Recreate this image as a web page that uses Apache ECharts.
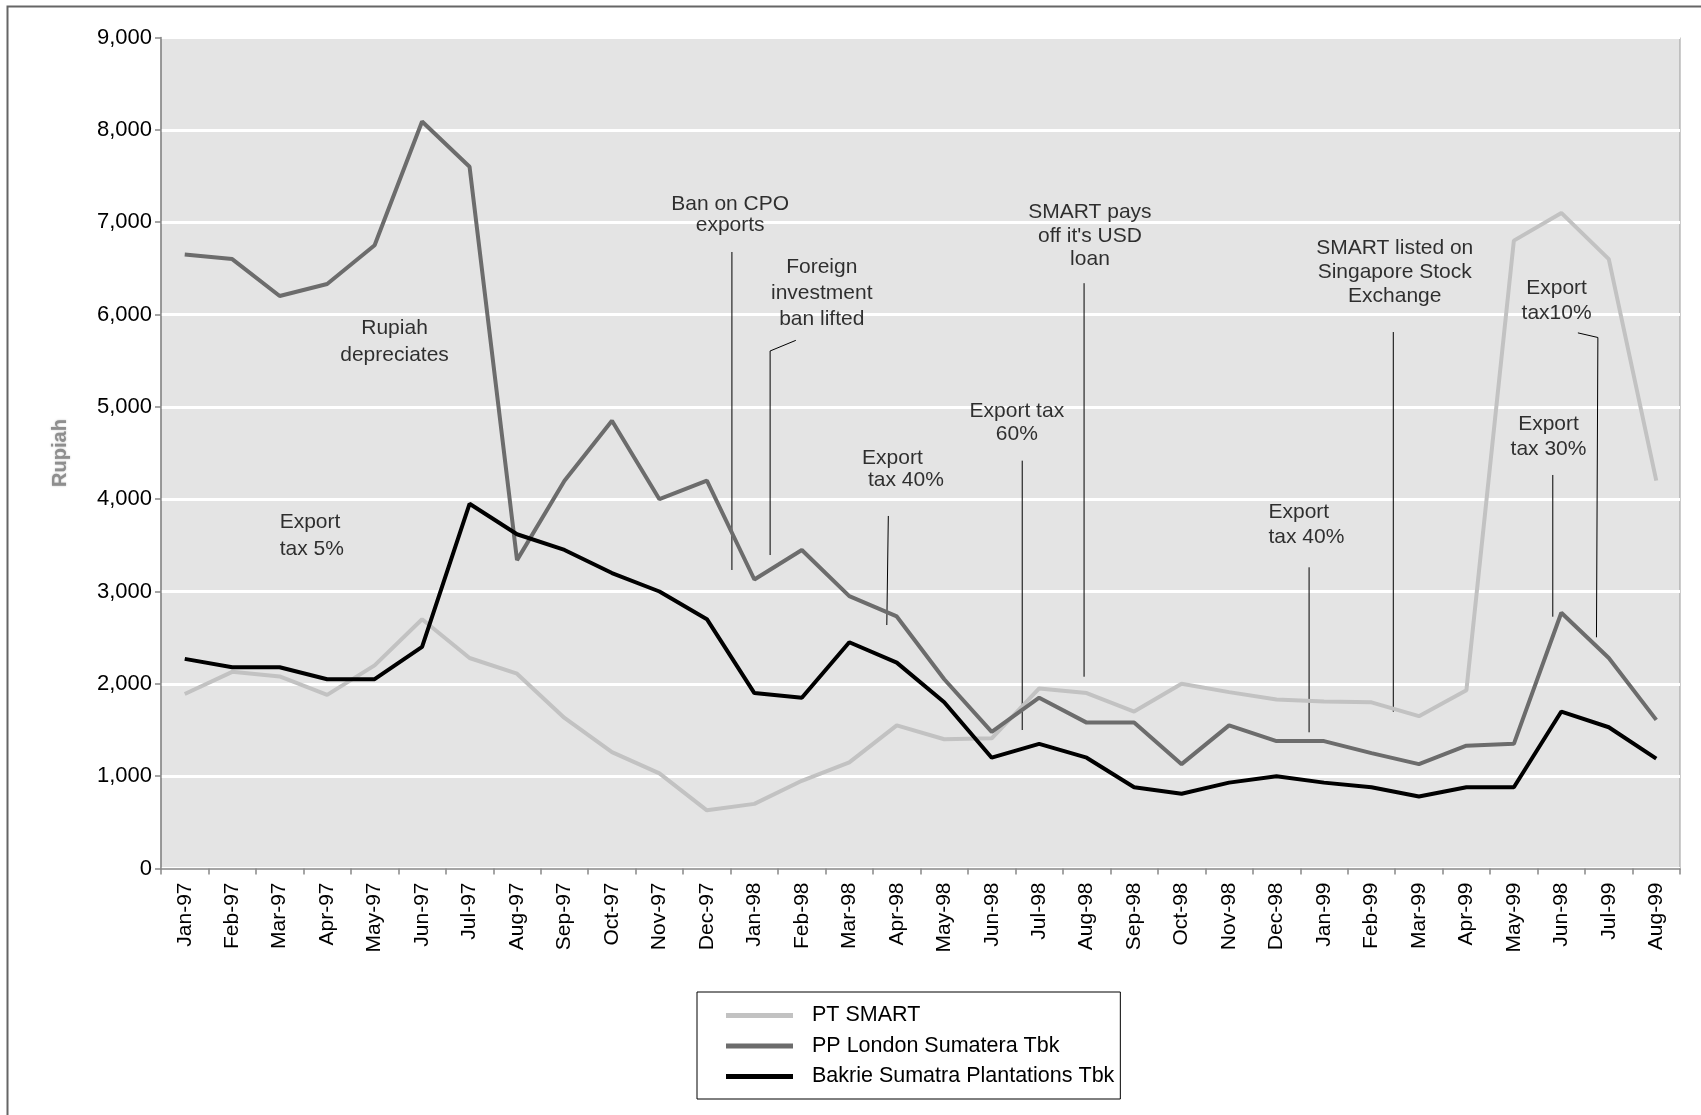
<!DOCTYPE html>
<html>
<head>
<meta charset="utf-8">
<title>Plantation share prices 1997-1999</title>
<script src="https://cdn.jsdelivr.net/npm/echarts@6/dist/echarts.min.js"></script>
<style>
  html, body { margin: 0; padding: 0; background: #fff; }
  #chart { width: 1701px; height: 1115px; }
</style>
</head>
<body>
<div id="chart"></div>
<script>
// Month labels (the original sheet labels the June 1999 point "Jun-98")
const months = ['Jan-97','Feb-97','Mar-97','Apr-97','May-97','Jun-97','Jul-97','Aug-97','Sep-97','Oct-97','Nov-97','Dec-97',
                'Jan-98','Feb-98','Mar-98','Apr-98','May-98','Jun-98','Jul-98','Aug-98','Sep-98','Oct-98','Nov-98','Dec-98',
                'Jan-99','Feb-99','Mar-99','Apr-99','May-99','Jun-98','Jul-99','Aug-99'];

// Share prices in Rupiah
const ptSmart = [1890,2130,2080,1880,2200,2700,2280,2110,1630,1260,1030,630,
                 700,950,1150,1550,1400,1410,1950,1900,1700,2000,1910,1830,
                 1810,1800,1650,1930,6800,7100,6600,4200];
const ppLondon = [6650,6600,6200,6330,6750,8090,7600,3340,4200,4850,4000,4200,
                  3130,3450,2950,2730,2050,1480,1850,1580,1580,1130,1550,1380,
                  1380,1250,1130,1330,1350,2770,2280,1610];
const bakrie = [2270,2180,2180,2050,2050,2400,3950,3620,3450,3200,3000,2700,
                1900,1850,2450,2230,1800,1200,1350,1200,880,810,930,1000,
                930,880,780,880,880,1700,1530,1190];

const seriesNames = ['PT SMART', 'PP London Sumatera Tbk', 'Bakrie Sumatra Plantations Tbk'];

// Event notes: [month index, Rupiah] anchor of each text block
const noteTexts = ['Rupiah\ndepreciates', 'Export\ntax 5%', 'Ban on CPO\nexports', 'Foreign\ninvestment\nban lifted',
                   'Export\n tax 40%', 'Export tax\n60%', "SMART pays\noff it's USD\nloan",
                   'SMART listed on\nSingapore Stock\nExchange', 'Export\ntax 40%', 'Export\ntax10%', 'Export\ntax 30%'];
const noteAnchors = [[4.42,5700],[2.0,3600],[11.49,7076],[13.42,6234],[14.27,4325],[17.53,4828],
                     [19.07,6853],[25.49,6459],[22.83,3722],[28.9,6147],[28.73,4675]];
// Leader lines for the notes, in the same units
const leaderPaths = [
  [[11.527,6677],[11.527,3233]],
  [[12.873,5720],[12.332,5605],[12.332,3395]],
  [[14.822,3818],[14.79,2637]],
  [[17.643,4417],[17.643,1500]],
  [[18.946,6339],[18.946,2077]],
  [[25.46,5810],[25.46,1698]],
  [[23.686,3262],[23.686,1475]],
  [[29.349,5801],[29.77,5751],[29.74,2504]],
  [[28.82,4262],[28.82,2727]]
];

const FONT = '"Liberation Sans", Arial, Helvetica, sans-serif';
const noteStyle = [
  {align:'center', lh:27}, {align:'left', lh:27}, {align:'center', lh:21}, {align:'center', lh:26},
  {align:'left', lh:22.5}, {align:'center', lh:22.6}, {align:'center', lh:23.4}, {align:'center', lh:24},
  {align:'left', lh:25}, {align:'center', lh:25.4}, {align:'center', lh:25}
];

const chart = echarts.init(document.getElementById('chart'), null, { renderer: 'canvas' });

const lineSeries = (name, data, color) => ({
  name, type: 'line', data, symbol: 'none', showSymbol: false,
  lineStyle: { color, width: 4 }, itemStyle: { color },
  xAxisIndex: 0, yAxisIndex: 0
});

chart.setOption({
  animation: false,
  backgroundColor: '#ffffff',
  textStyle: { fontFamily: FONT },
  graphic: [{
    type: 'rect', left: 5, top: 4, silent: true,
    shape: { width: 1800, height: 1300 },
    style: { fill: 'none', stroke: '#666', lineWidth: 2 }
  }],
  grid: {
    left: 161, right: 21, top: 37.5, bottom: 246.5,
    show: true, backgroundColor: '#e4e4e4', borderColor: '#9a9a9a', borderWidth: 1
  },
  legend: {
    data: seriesNames,
    icon: 'rect',
    orient: 'vertical', left: 697, top: 992,
    itemWidth: 67, itemHeight: 5, itemGap: 8.5,
    padding: [12.5, 6, 11.5, 29],
    borderColor: '#000', borderWidth: 1,
    textStyle: { fontSize: 21.5, color: '#000', fontFamily: FONT, lineHeight: 21, padding: [0, 0, 0, 14] }
  },
  xAxis: [{
    type: 'category', data: months, boundaryGap: true,
    axisLine: { lineStyle: { color: '#888', width: 1.5 } },
    axisTick: { show: true, length: 6, interval: 0, lineStyle: { color: '#888', width: 1.5 } },
    axisLabel: { rotate: 90, interval: 0, fontSize: 21, margin: 14, color: '#000', fontFamily: FONT },
    splitLine: { show: false }
  }, {
    type: 'value', min: -0.5, max: 31.5, show: false
  }],
  yAxis: {
    type: 'value', min: 0, max: 9000, interval: 1000,
    name: 'Rupiah', nameLocation: 'middle', nameGap: 91, nameRotate: 90,
    nameTextStyle: { fontSize: 20, fontWeight: 'bold', color: '#8e8e8e', fontFamily: FONT,
                     textShadowColor: 'rgba(140,140,140,0.6)', textShadowBlur: 2 },
    axisLine: { show: true, onZero: false, lineStyle: { color: '#888', width: 1.5 } },
    axisTick: { show: true, length: 6, lineStyle: { color: '#888', width: 1.5 } },
    axisLabel: { fontSize: 22, margin: 9, color: '#000', fontFamily: FONT,
                 formatter: v => v.toLocaleString('en-US') },
    splitLine: { show: true, lineStyle: { color: '#ffffff', width: 3 } }
  },
  series: [
    lineSeries(seriesNames[0], ptSmart, '#c2c2c2'),
    lineSeries(seriesNames[1], ppLondon, '#6c6c6c'),
    lineSeries(seriesNames[2], bakrie, '#000000'),
    {
      name: 'leaders', type: 'lines', coordinateSystem: 'cartesian2d',
      xAxisIndex: 1, yAxisIndex: 0, polyline: true, silent: true,
      lineStyle: { color: '#000', width: 1, opacity: 1 },
      data: leaderPaths.map(p => ({ coords: p })),
      z: 3
    },
    {
      name: 'notes', type: 'scatter', xAxisIndex: 1, yAxisIndex: 0,
      symbolSize: 0, silent: true, z: 4,
      label: { show: true, position: 'inside', fontSize: 21, color: '#000', fontFamily: FONT },
      data: noteAnchors.map((a, i) => ({
        value: a,
        label: { formatter: noteTexts[i], align: noteStyle[i].align, lineHeight: noteStyle[i].lh }
      }))
    }
  ]
});
</script>
</body>
</html>
